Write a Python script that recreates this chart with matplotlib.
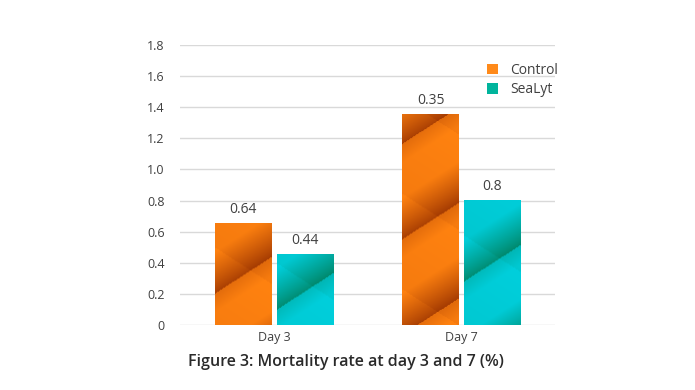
import numpy as np
import matplotlib
matplotlib.use("Agg")
import matplotlib.pyplot as plt
from matplotlib.patches import Patch
from matplotlib.colors import to_rgb

categories = ["Day 3", "Day 7"]
series_names = ["Control", "SeaLyt"]
control_values = [0.65, 1.35]
sealyt_values = [0.45, 0.80]
control_labels = ["0.64", "0.35"]
sealyt_labels = ["0.44", "0.8"]
yticks = [0, 0.2, 0.4, 0.6, 0.8, 1.0, 1.2, 1.4, 1.6, 1.8]
ytick_labels = ["0", "0.2", "0.4", "0.6", "0.8", "1.0", "1.2", "1.4", "1.6", "1.8"]

plt.rcParams['font.family'] = ['Open Sans', 'DejaVu Sans']

fig = plt.figure(figsize=(6.95, 3.9), dpi=100)
ax = fig.add_axes([0.259, 0.1667, 0.540, 0.718])

bar_w = 0.30
offset = 0.165
x = np.arange(len(categories))

styles = {
    "Control": dict(bright="#FF8210", dark="#A33A02", legend="#FF8A1A"),
    "SeaLyt": dict(bright="#00CFDC", dark="#00876A", legend="#00B49C"),
}

px_per_unit_y = 155.6
px_per_unit_x = 188.0
period = 95.0
slope = 0.65

def draw_bar(xc, h, st, phase):
    x0, x1 = xc - bar_w / 2, xc + bar_w / 2
    ny = max(int(h * px_per_unit_y), 2)
    nx = int(bar_w * px_per_unit_x)
    yy, xx = np.mgrid[0:ny, 0:nx].astype(float)
    u = yy - phase - slope * xx
    f = (u / period) % 1.0
    v = yy - phase - 45 + slope * xx
    g = (v / period) % 1.0
    val = 0.9 * np.clip(f * 2.3, 0, 1) ** 0.9 + 0.1 * g
    val = np.where(f > 0.8, val - (f - 0.8) * 1.3, val)
    val = np.clip(val, 0, 1)
    b = np.array(to_rgb(st["bright"]))
    d = np.array(to_rgb(st["dark"]))
    img = d[None, None, :] + (b - d)[None, None, :] * val[:, :, None]
    ax.imshow(img, extent=(x0, x1, 0, h), origin="lower", aspect="auto",
              interpolation="bilinear", zorder=3)

for i in range(len(categories)):
    draw_bar(x[i] - offset, control_values[i], styles["Control"], [31, 85][i])
    draw_bar(x[i] + offset, sealyt_values[i], styles["SeaLyt"], [15, 43][i])
    ax.text(x[i] - offset, control_values[i] + 0.045, control_labels[i],
            ha="center", va="bottom", fontsize=10, color="#404040", zorder=4)
    ax.text(x[i] + offset, sealyt_values[i] + 0.045, sealyt_labels[i],
            ha="center", va="bottom", fontsize=10, color="#404040", zorder=4)

ax.set_xlim(-0.5, 1.5)
ax.set_ylim(0, 1.8)
ax.set_yticks(yticks)
ax.set_yticklabels(ytick_labels)
ax.set_xticks(x)
ax.set_xticklabels(categories)
ax.tick_params(axis="both", length=0, labelsize=9, labelcolor="#404040")
ax.tick_params(axis="y", pad=11)
ax.tick_params(axis="x", pad=4)
ax.grid(axis="y", color="#d9d9d9", linewidth=1, zorder=0)
ax.set_axisbelow(True)
for s in ax.spines.values():
    s.set_visible(False)

handles = [Patch(facecolor=styles[n]["legend"], edgecolor="none", label=n) for n in series_names]
fig.legend(handles=handles, loc="upper left", bbox_to_anchor=(0.683, 0.87),
           frameon=False, fontsize=10, handlelength=0.75, handleheight=0.75,
           handletextpad=0.9, labelspacing=0.3, labelcolor="#404040")

fig.text(0.498, 0.072, "Figure 3: Mortality rate at day 3 and 7 (%)",
         ha="center", va="center", fontsize=11.5, color="#2a2a2a", fontweight="semibold")

fig.savefig("out.png", dpi=100)
